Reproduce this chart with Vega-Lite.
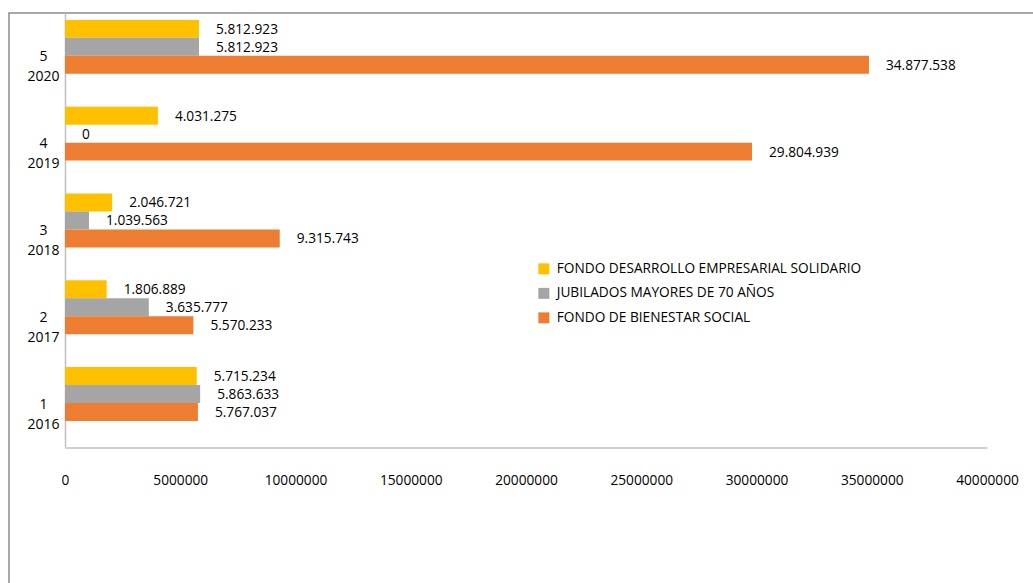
{
  "$schema": "https://vega.github.io/schema/vega-lite/v6.json",
  "width": 1030,
  "height": 576,
  "autosize": {"type": "none"},
  "padding": {"left": 9, "top": 13, "right": -6, "bottom": -6},
  "background": "white",
  "config": {
    "view": {"stroke": "#8c8c8c", "strokeWidth": 1.5},
    "font": "Open Sans",
    "locale": {"number": {"decimal": ",", "thousands": ".", "grouping": [3], "currency": ["$", ""]}}
  },
  "data": {
    "values": [
      {"periodo": "5 2020", "serie": "FONDO DESARROLLO EMPRESARIAL SOLIDARIO", "valor": 5812923},
      {"periodo": "5 2020", "serie": "JUBILADOS MAYORES DE 70 AÑOS", "valor": 5812923},
      {"periodo": "5 2020", "serie": "FONDO DE BIENESTAR SOCIAL", "valor": 34877538},
      {"periodo": "4 2019", "serie": "FONDO DESARROLLO EMPRESARIAL SOLIDARIO", "valor": 4031275},
      {"periodo": "4 2019", "serie": "JUBILADOS MAYORES DE 70 AÑOS", "valor": 0},
      {"periodo": "4 2019", "serie": "FONDO DE BIENESTAR SOCIAL", "valor": 29804939},
      {"periodo": "3 2018", "serie": "FONDO DESARROLLO EMPRESARIAL SOLIDARIO", "valor": 2046721},
      {"periodo": "3 2018", "serie": "JUBILADOS MAYORES DE 70 AÑOS", "valor": 1039563},
      {"periodo": "3 2018", "serie": "FONDO DE BIENESTAR SOCIAL", "valor": 9315743},
      {"periodo": "2 2017", "serie": "FONDO DESARROLLO EMPRESARIAL SOLIDARIO", "valor": 1806889},
      {"periodo": "2 2017", "serie": "JUBILADOS MAYORES DE 70 AÑOS", "valor": 3635777},
      {"periodo": "2 2017", "serie": "FONDO DE BIENESTAR SOCIAL", "valor": 5570233},
      {"periodo": "1 2016", "serie": "FONDO DESARROLLO EMPRESARIAL SOLIDARIO", "valor": 5715234},
      {"periodo": "1 2016", "serie": "JUBILADOS MAYORES DE 70 AÑOS", "valor": 5863633},
      {"periodo": "1 2016", "serie": "FONDO DE BIENESTAR SOCIAL", "valor": 5767037}
    ]
  },
  "encoding": {
    "y": {
      "field": "periodo",
      "type": "nominal",
      "sort": ["5 2020", "4 2019", "3 2018", "2 2017", "1 2016"],
      "scale": {"range": [0, 434], "paddingInner": 0, "paddingOuter": 0},
      "axis": {
        "title": null,
        "offset": -56,
        "domainColor": "#BFBFBF",
        "domainWidth": 1.5,
        "ticks": false,
        "tickSize": 0,
        "grid": false,
        "labelExpr": "split(datum.value, ' ')",
        "labelAlign": "center",
        "labelPadding": 22,
        "labelBaseline": "middle",
        "labelLineHeight": 20,
        "labelOffset": 1,
        "labelFontSize": 14,
        "labelColor": "#000000"
      }
    },
    "yOffset": {
      "field": "serie",
      "type": "nominal",
      "sort": ["FONDO DESARROLLO EMPRESARIAL SOLIDARIO", "JUBILADOS MAYORES DE 70 AÑOS", "FONDO DE BIENESTAR SOCIAL"],
      "scale": {"paddingInner": 0, "paddingOuter": 0.9167, "align": 0.21}
    },
    "x": {
      "field": "valor",
      "type": "quantitative",
      "scale": {"domain": [0, 40000000], "range": [56, 978], "nice": false, "zero": true},
      "axis": {
        "title": null,
        "orient": "bottom",
        "offset": -141.5,
        "values": [0, 5000000, 10000000, 15000000, 20000000, 25000000, 30000000, 35000000, 40000000],
        "format": "d",
        "ticks": false,
        "tickSize": 0,
        "grid": false,
        "domainColor": "#BFBFBF",
        "domainWidth": 1.5,
        "labelPadding": 33,
        "labelBaseline": "middle",
        "labelFontSize": 13.7,
        "labelColor": "#000000",
        "labelFlush": false,
        "labelOverlap": false
      }
    }
  },
  "layer": [
    {
      "mark": {"type": "bar"},
      "encoding": {
        "color": {
          "field": "serie",
          "type": "nominal",
          "scale": {
            "domain": ["FONDO DESARROLLO EMPRESARIAL SOLIDARIO", "JUBILADOS MAYORES DE 70 AÑOS", "FONDO DE BIENESTAR SOCIAL"],
            "range": ["#FFC000", "#A5A5A5", "#ED7D31"]
          },
          "legend": {
            "orient": "none",
            "legendX": 528,
            "legendY": 249,
            "title": null,
            "padding": 0,
            "symbolType": "square",
            "symbolSize": 121,
            "symbolStrokeWidth": 0,
            "labelFontSize": 13.7,
            "labelColor": "#000000",
            "labelOffset": 6,
            "rowPadding": 9.5,
            "labelLimit": 0
          }
        }
      }
    },
    {
      "mark": {"type": "text", "align": "left", "baseline": "middle", "dx": 17, "dy": 1, "fontSize": 13.7, "color": "#000000"},
      "encoding": {
        "text": {"field": "valor", "type": "quantitative", "format": ",d"}
      }
    }
  ]
}
